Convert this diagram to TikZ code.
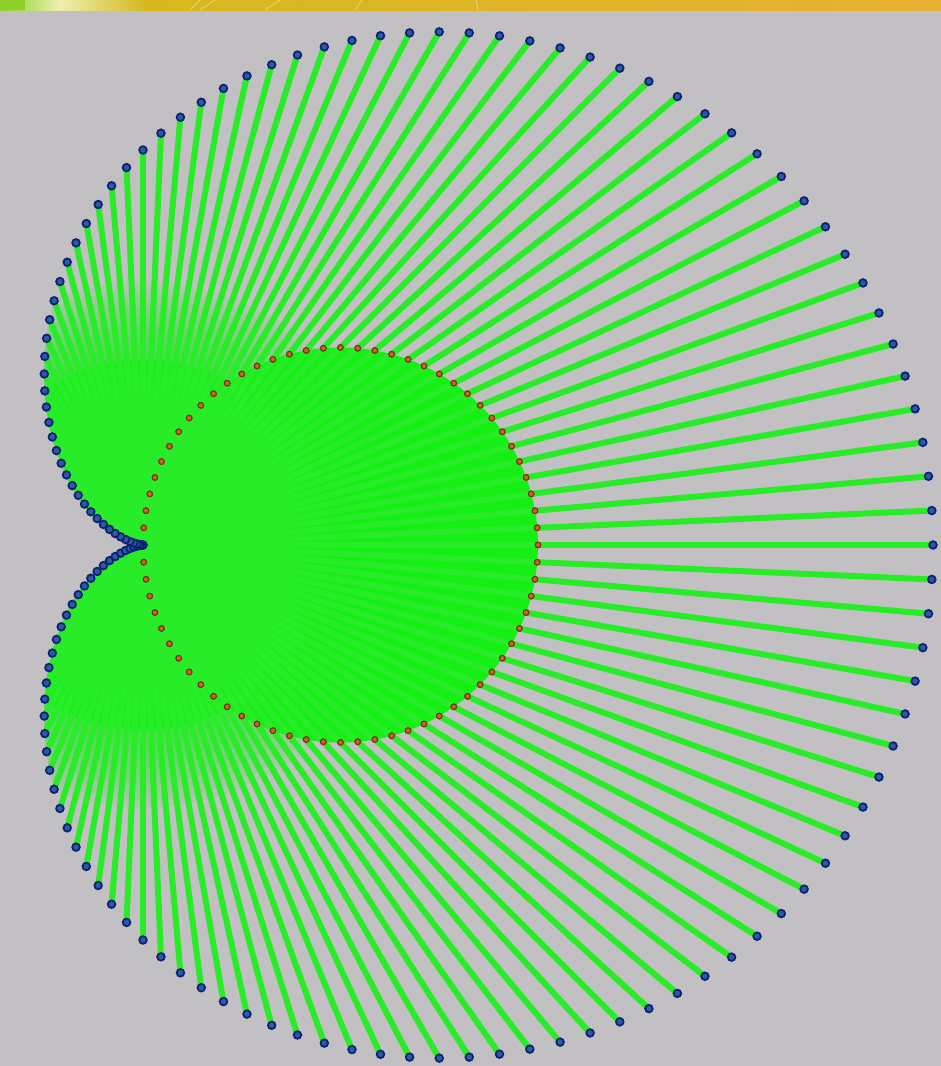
\documentclass[tikz,border=0pt]{standalone}
\definecolor{bgc}{RGB}{194,192,194}
\definecolor{lineg}{RGB}{40,236,40}
\definecolor{fillg}{RGB}{20,240,20}
\definecolor{bluef}{RGB}{45,90,165}
\definecolor{blued}{RGB}{12,35,115}
\definecolor{redf}{RGB}{200,100,40}
\definecolor{redd}{RGB}{120,50,20}
\definecolor{bannerg}{RGB}{140,208,40}
\definecolor{bannerp}{RGB}{236,240,176}
\definecolor{bannery}{RGB}{214,184,30}
\definecolor{bannero}{RGB}{232,176,48}
\tikzset{
  ray/.style={draw=lineg,line width=6pt},
  outerdot/.style={fill=bluef,draw=blued,line width=1.8pt},
  innerdot/.style={fill=redf,draw=redd,line width=1pt}
}
\begin{document}
\begin{tikzpicture}[x=1pt,y=-1pt]
\useasboundingbox (0,0) rectangle (941,1066);
\fill[bgc] (0,0) rectangle (941,1066);
% banner
\shade[left color=bannerg,right color=bannerp] (0,0) rectangle (60,10);
\shade[left color=bannerp,right color=bannery] (60,0) rectangle (145,10);
\shade[left color=bannery,right color=bannero] (145,0) rectangle (941,10);
\fill[bannerg] (0,0) rectangle (25,10);
\draw[bannerp,opacity=0.6,line width=0.8pt] (190,10) -- (200,0) (200,10) -- (215,0) (265,10) -- (280,0) (355,10) -- (362,0) (478,10) -- (476,0);
% dense green core (blurred overlap of rays)
\begin{scope}
  \clip plot[domain=0:360,samples=240,smooth] ({143+395*(1+cos(\x))*cos(\x)},{545+395*(1+cos(\x))*sin(\x)}) -- cycle;
  \foreach \r in {190,198,...,262}{
    \fill[fillg,opacity=0.1] (143,545) circle (\r);
  }
  \fill[fillg] (143,545) circle (185);
\end{scope}
\fill[fillg] (340.5,545) circle (197.5);
% construction
\foreach \i in {0,...,143}{
  \pgfmathsetmacro\c{cos(\i*2.5)}
  \pgfmathsetmacro\s{sin(\i*2.5)}
  \coordinate (p\i) at ({143+395*\c*\c},{545+395*\c*\s});
  \coordinate (q\i) at ({143+395*\c*\c+395*\c},{545+395*\c*\s+395*\s});
}
\foreach \i in {0,...,143}{
  \draw[ray] (p\i) -- (q\i);
}
\foreach \i in {0,...,143}{
  \fill[innerdot] (p\i) circle (2.8);
}
\foreach \i in {0,...,143}{
  \fill[outerdot] (q\i) circle (3.8);
}
\end{tikzpicture}
\end{document}
